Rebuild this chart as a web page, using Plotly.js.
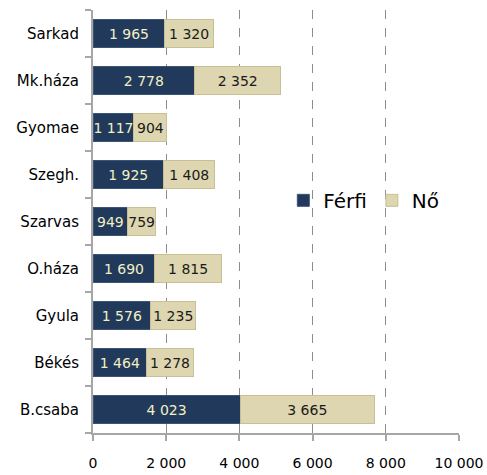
<!DOCTYPE html>
<html>
<head>
<meta charset="utf-8">
<script src="https://cdn.plot.ly/plotly-3.0.1.min.js"></script>
<style>body{margin:0;padding:0;background:#fff}#chart{width:487px;height:475px}</style>
</head>
<body>
<div id="chart"></div>
<script>
const categories = ["B.csaba", "Békés", "Gyula", "O.háza", "Szarvas", "Szegh.", "Gyomae", "Mk.háza", "Sarkad"];
const ferfi = [4023, 1464, 1576, 1690, 949, 1925, 1117, 2778, 1965];
const no = [3665, 1278, 1235, 1815, 759, 1408, 904, 2352, 1320];
const seriesNames = ["Férfi", "Nő"];
const xTicks = [0, 2000, 4000, 6000, 8000, 10000];

const FONT = "'DejaVu Sans', Verdana, sans-serif";

const traces = [
  {
    type: "bar", orientation: "h", name: seriesNames[0],
    y: categories, x: ferfi,
    marker: {color: "#213a5c", line: {color: "#3a5578", width: 1}},
    texttemplate: "%{x:,}", textposition: "inside", insidetextanchor: "middle",
    textangle: 0, constraintext: "none",
    insidetextfont: {family: FONT, size: 14, color: "#f3efc4"},
    hoverinfo: "none"
  },
  {
    type: "bar", orientation: "h", name: seriesNames[1],
    y: categories, x: no,
    marker: {color: "#ddd6b0", line: {color: "#c8bf95", width: 1}},
    texttemplate: "%{x:,}", textposition: "inside", insidetextanchor: "middle",
    textangle: 0, constraintext: "none",
    insidetextfont: {family: FONT, size: 14, color: "#1a1a1a"},
    hoverinfo: "none"
  }
];

const layout = {
  width: 487, height: 475,
  margin: {l: 93, r: 28, t: 10, b: 42},
  barmode: "stack",
  bargap: 0.42,
  separators: ", ",
  paper_bgcolor: "#ffffff",
  plot_bgcolor: "#ffffff",
  font: {family: FONT, size: 14, color: "#000"},
  showlegend: true,
  legend: {
    orientation: "h", x: 0.52, y: 0.55, xanchor: "left", yanchor: "middle",
    font: {family: FONT, size: 20, color: "#000"},
    bgcolor: "rgba(0,0,0,0)", traceorder: "normal", itemwidth: 30
  },
  xaxis: {
    range: [0, 10000], tickvals: xTicks, tickformat: ",",
    showgrid: true, gridcolor: "#8c8c8c", griddash: "dash", gridwidth: 1,
    zeroline: false, showline: true, linecolor: "#a6a6a6", linewidth: 2,
    ticks: "outside", ticklen: 6, tickcolor: "#a6a6a6", tickwidth: 2,
    ticklabelstandoff: 10,
    tickfont: {family: FONT, size: 14, color: "#000"}
  },
  yaxis: {
    type: "category", categoryorder: "array", categoryarray: categories,
    showgrid: false, zeroline: false, showline: true, linecolor: "#a6a6a6", linewidth: 2,
    ticks: "outside", tickson: "boundaries", ticklen: 6, tickcolor: "#a6a6a6", tickwidth: 2,
    ticklabelstandoff: 9,
    tickfont: {family: FONT, size: 15, color: "#000"}
  }
};

Plotly.newPlot("chart", traces, layout, {displayModeBar: false, staticPlot: true});
</script>
</body>
</html>
